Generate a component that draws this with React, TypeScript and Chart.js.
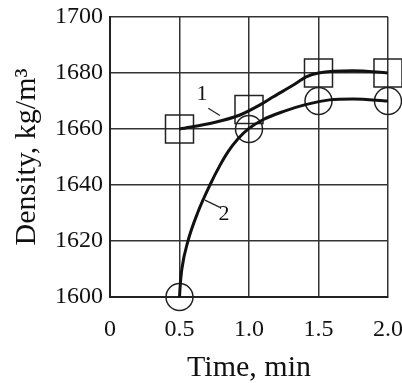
import React, { useEffect, useRef } from 'react';
import { Chart, registerables } from 'chart.js';

Chart.register(...registerables);

// Curve 1
const curve1X = [0.5, 0.75, 0.935, 1.079, 1.175, 1.319, 1.415, 1.5, 1.75, 2.0];
const curve1Y = [1660, 1662.3, 1665, 1668.6, 1671.5, 1675.7, 1678.7, 1680, 1680.8, 1680];

// Curve 2
const curve2X = [0.5, 0.505, 0.517, 0.561, 0.63, 0.719, 0.791, 0.851, 0.923, 1.0, 1.1, 1.25, 1.4, 1.58, 1.75, 2.0];
const curve2Y = [1600, 1604, 1610, 1620, 1630, 1640, 1647, 1652, 1656.6, 1660.2, 1663.3, 1666.3, 1668.6, 1670.4, 1670.7, 1670];

// Measured points
const squareX = [0.5, 1.0, 1.5, 2.0];
const squareY = [1660, 1667, 1680, 1680];
const circleX = [0.5, 1.0, 1.5, 2.0];
const circleY = [1600, 1660, 1670, 1670];

// Curve labels with leader lines (data coordinates)
const curveLabels = ['1', '2'];
const labelX = [0.662, 0.82];
const labelY = [1672.3, 1629.5];
const leaderFromX = [0.707, 0.683];
const leaderFromY = [1667.4, 1634.6];
const leaderToX = [0.791, 0.791];
const leaderToY = [1664.8, 1632.0];

const xMin = 0, xMax = 2.0, xStep = 0.5;
const yMin = 1600, yMax = 1700, yStep = 20;

const xTitle = 'Time, min';
const yTitle = 'Density, kg/m³';

const FONT = '"Liberation Serif", "Times New Roman", serif';

const zip = (xs: number[], ys: number[]) => xs.map((x, i) => ({ x, y: ys[i] }));

const labelPlugin = {
  id: 'curveLabels',
  afterDatasetsDraw(chart: any) {
    const { ctx, scales } = chart;
    const sx = scales.x, sy = scales.y;
    ctx.save();
    ctx.strokeStyle = '#222';
    ctx.lineWidth = 1.2;
    ctx.fillStyle = '#111';
    ctx.font = `22px ${FONT}`;
    ctx.textAlign = 'center';
    ctx.textBaseline = 'middle';
    curveLabels.forEach((t, i) => {
      ctx.beginPath();
      ctx.moveTo(sx.getPixelForValue(leaderFromX[i]), sy.getPixelForValue(leaderFromY[i]));
      ctx.lineTo(sx.getPixelForValue(leaderToX[i]), sy.getPixelForValue(leaderToY[i]));
      ctx.stroke();
      ctx.fillText(t, sx.getPixelForValue(labelX[i]), sy.getPixelForValue(labelY[i]));
    });
    ctx.restore();
  },
};

export default function App() {
  const ref = useRef<HTMLCanvasElement>(null);
  useEffect(() => {
    document.body.style.margin = '0';
    const chart = new Chart(ref.current as HTMLCanvasElement, {
      type: 'line',
      data: {
        datasets: [
          {
            data: zip(curve1X, curve1Y),
            borderColor: '#111',
            borderWidth: 3,
            pointRadius: 0,
            cubicInterpolationMode: 'monotone',
            fill: false,
          },
          {
            data: zip(curve2X, curve2Y),
            borderColor: '#111',
            borderWidth: 3,
            pointRadius: 0,
            cubicInterpolationMode: 'monotone',
            fill: false,
          },
          {
            data: zip(squareX, squareY),
            showLine: false,
            pointStyle: 'rect',
            pointRadius: 19.8,
            pointBorderWidth: 1.5,
            pointBorderColor: '#222',
            pointBackgroundColor: 'rgba(0,0,0,0)',
            clip: false,
          },
          {
            data: zip(circleX, circleY),
            showLine: false,
            pointStyle: 'circle',
            pointRadius: 13.5,
            pointBorderWidth: 1.5,
            pointBorderColor: '#222',
            pointBackgroundColor: 'rgba(0,0,0,0)',
            clip: false,
          },
        ] as any,
      },
      options: {
        animation: false,
        responsive: false,
        layout: { autoPadding: false, padding: { top: 17, right: 14, bottom: 0, left: 0 } },
        plugins: { legend: { display: false }, tooltip: { enabled: false } },
        scales: {
          x: {
            type: 'linear',
            min: xMin,
            max: xMax,
            afterFit(scale: any) {
              scale.height = 86;
              scale.paddingLeft = 0;
              scale.paddingRight = 0;
            },
            ticks: {
              stepSize: xStep,
              color: '#111',
              font: { family: FONT, size: 24 },
              padding: 18,
              maxRotation: 0,
              callback: (v: any) => (Number(v) === 0 ? '0' : Number(v).toFixed(1)),
            },
            grid: { color: '#333', lineWidth: 1.5, drawTicks: false },
            border: { color: '#222', width: 2 },
            title: {
              display: true,
              text: xTitle,
              color: '#111',
              font: { family: FONT, size: 30 },
              padding: { top: 0, bottom: -3 },
            },
          },
          y: {
            type: 'linear',
            min: yMin,
            max: yMax,
            afterFit(scale: any) {
              scale.width = 110;
              scale.paddingTop = 0;
              scale.paddingBottom = 0;
            },
            ticks: {
              stepSize: yStep,
              color: '#111',
              font: { family: FONT, size: 24 },
              padding: 7,
              callback: (v: any) => String(v),
            },
            grid: { color: '#333', lineWidth: 1.5, drawTicks: false },
            border: { color: '#222', width: 2 },
            title: {
              display: true,
              text: yTitle,
              color: '#111',
              font: { family: FONT, size: 30 },
              padding: { top: 9, bottom: 0 },
            },
          },
        },
      } as any,
      plugins: [labelPlugin],
    });
    return () => chart.destroy();
  }, []);
  return <canvas ref={ref} width={402} height={383} style={{ display: 'block' }} />;
}
